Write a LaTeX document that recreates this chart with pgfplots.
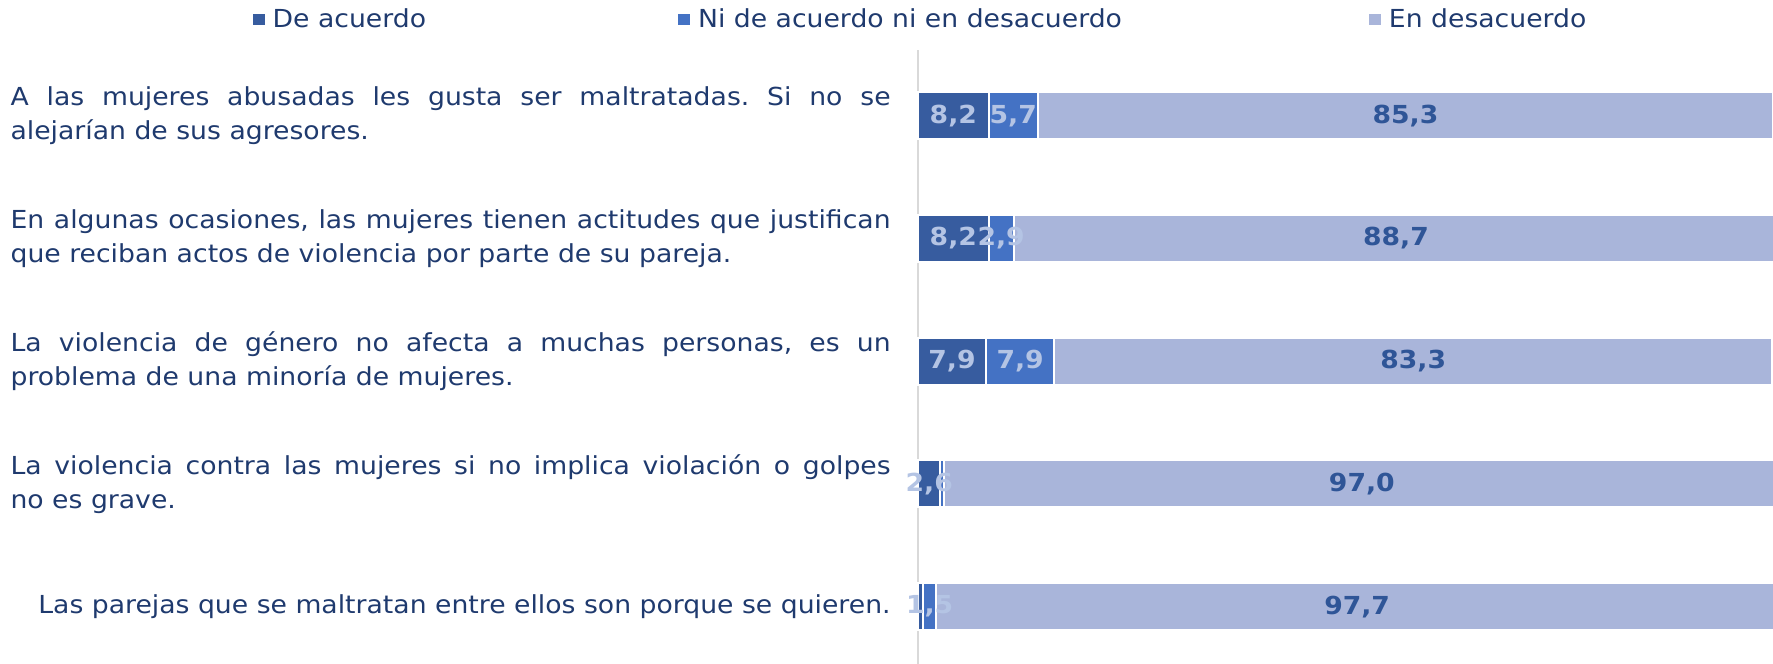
\documentclass[border=0pt]{standalone}
\usepackage{pgfplots}
\pgfplotsset{compat=1.18}
\usepackage{pgfplotstable}
\usepackage{fontspec}
\setmainfont{DejaVu Sans}[FakeStretch=1.075]
\frenchspacing
\definecolor{cDark}{HTML}{375C9F}
\definecolor{cMid}{HTML}{4472C4}
\definecolor{cLight}{HTML}{A9B5DA}
\definecolor{cTxt}{HTML}{1F3A6E}
\definecolor{cLblLight}{HTML}{B4C4E4}
\definecolor{cLblDark}{HTML}{2F5597}
\definecolor{cAxis}{HTML}{D9D9D9}

% values per category (y=4 top ... y=0 bottom)
\pgfplotstableread{
y a b c
4 8.2 5.7 85.3
3 8.2 2.9 88.7
2 7.9 7.9 83.3
1 2.6 0.4 97.0
0 0.6 1.5 97.7
}\datatable

% label positions (segment centres) and texts
\pgfplotstableread{
x y t
4.1 4 {8,2}
4.1 3 {8,2}
3.95 2 {7,9}
1.3 1 {2,6}
}\lblA
\pgfplotstableread{
x y t
11.05 4 {5,7}
9.65 3 {2,9}
11.85 2 {7,9}
1.35 0 {1,5}
}\lblB
\pgfplotstableread{
x y t
56.55 4 {85,3}
55.45 3 {88,7}
57.45 2 {83,3}
51.5 1 {97,0}
50.95 0 {97,7}
}\lblC

\newcommand{\lab}[2]{\parbox{440pt}{\noindent\makebox[440pt][s]{#1}\\#2}}

\pgfplotsset{base/.style={
  at={(0,0)}, anchor=south west,
  width=427.5pt, height=306.75pt, scale only axis,
  xmin=0, xmax=99.2, ymin=-0.468, ymax=4.532,
  clip=false}}

\begin{document}
\begin{tikzpicture}
\begin{axis}[
  base,
  xbar stacked,
  bar width=23.5pt,
  axis x line=none,
  axis y line*=left,
  y axis line style={cAxis, line width=1.2pt, -},
  ytick={0,1,2,3,4},
  yticklabels={
    {\parbox{440pt}{\raggedleft Las parejas que se maltratan entre ellos son porque se quieren.}},
    {\lab{La violencia contra las mujeres si no implica violación o golpes}{no es grave.}},
    {\lab{La violencia de género no afecta a muchas personas, es un}{problema de una minoría de mujeres.}},
    {\lab{En algunas ocasiones, las mujeres tienen actitudes que justifican}{que reciban actos de violencia por parte de su pareja.}},
    {\lab{A las mujeres abusadas les gusta ser maltratadas. Si no se}{alejarían de sus agresores.}}
  },
  major tick length=0pt,
  yticklabel style={font=\fontsize{12.4}{17}\selectfont, text=cTxt, inner sep=0pt, anchor=east, xshift=-13.5pt},
  legend columns=3,
  legend style={draw=none, fill=none, at={(0.003,1.051)}, anchor=center,
    font=\fontsize{12.4}{15}\selectfont, text=cTxt,
    /tikz/every odd column/.append style={column sep=1pt},
    /tikz/column 2/.append style={column sep=123pt},
    /tikz/column 4/.append style={column sep=120.5pt}},
  legend image code/.code={\fill[#1] (0pt,-3.5pt) rectangle (7pt,3.2pt);},
]
\addplot[fill=cDark, draw=white, line width=1pt] table[x=a, y=y] {\datatable};
\addplot[fill=cMid, draw=white, line width=1pt] table[x=b, y=y] {\datatable};
\addplot[fill=cLight, draw=white, line width=1pt] table[x=c, y=y] {\datatable};
\legend{De acuerdo, Ni de acuerdo ni en desacuerdo, En desacuerdo}
\end{axis}
\begin{axis}[
  base, hide axis,
  point meta=explicit symbolic,
  nodes near coords,
  nodes near coords style={anchor=center, font=\fontsize{12.4}{14}\selectfont\bfseries},
]
\addplot[only marks, mark=none, nodes near coords style={text=cLblLight}] table[x=x, y=y, meta=t] {\lblA};
\addplot[only marks, mark=none, nodes near coords style={text=cLblLight}] table[x=x, y=y, meta=t] {\lblB};
\addplot[only marks, mark=none, nodes near coords style={text=cLblDark}] table[x=x, y=y, meta=t] {\lblC};
\end{axis}
\pgfresetboundingbox
\path (-459pt,0pt) rectangle (427.5pt,332pt);
\end{tikzpicture}
\end{document}
